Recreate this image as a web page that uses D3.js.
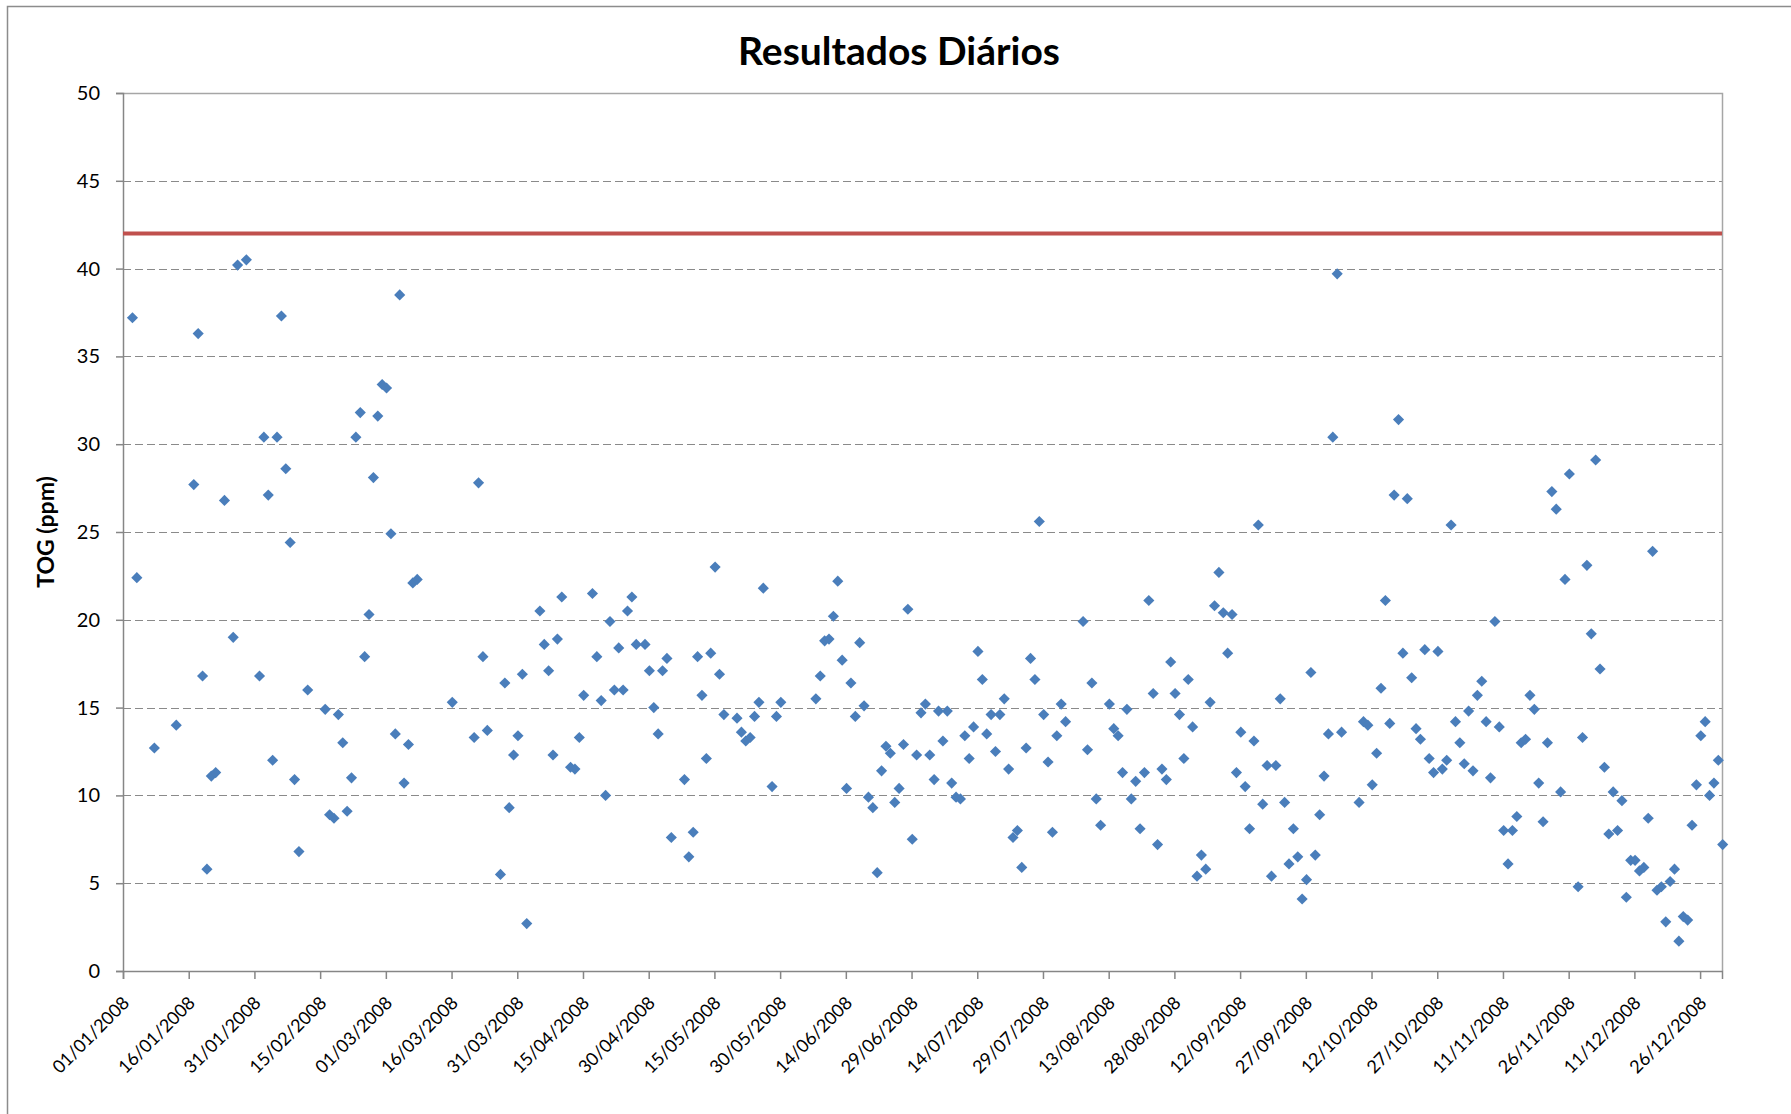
<!DOCTYPE html>
<html>
<head>
<meta charset="utf-8">
<script src="https://cdn.jsdelivr.net/npm/d3@7"></script>
<style>
  body { margin: 0; background: #fff; }
  svg text { font-family: Lato, "Liberation Sans", sans-serif; fill: #000; }
</style>
</head>
<body>
<div id="chart"></div>
<script>
// ---- data ----
var startDate = "01/01/2008";
var endDate = "31/12/2008";

// days after 01/01/2008
var sampleDays = [
  2, 3, 7, 12, 16, 17, 18, 19, 20, 21, 23, 25, 26, 28,
  31, 32, 33, 34, 35, 36, 37, 38, 39, 40, 42, 46, 47, 48, 49, 50, 51, 52, 53, 54, 55, 56, 57, 58,
  59, 60, 61, 62, 63, 64, 65, 66, 67, 75, 80, 81, 82, 83, 86, 87, 88, 89,
  90, 91, 92, 95, 96, 97, 98, 99, 100, 102, 103, 104, 105, 107, 108, 109, 110, 111, 112, 113, 114, 115, 116, 117, 119,
  120, 121, 122, 123, 124, 125, 128, 129, 130, 131, 132, 133, 134, 135, 136, 137, 140, 141, 142, 143, 144, 145, 146, 148, 149, 150,
  158, 159, 160, 161, 162, 163, 164, 165, 166, 167, 168, 169, 170, 171, 172, 173, 174, 175, 176, 177, 178, 179, 180,
  181, 182, 183, 184, 185, 186, 187, 188, 189, 190, 191, 192, 193, 194, 195, 196, 197, 198, 199, 200, 201, 202, 203, 204, 205, 206, 207, 208, 209, 210, 211,
  212, 213, 214, 215, 219, 220, 221, 222, 223, 225, 226, 227, 228, 229, 230, 231, 232, 233, 234, 235, 236, 237, 238, 239, 240, 241, 242,
  243, 244, 245, 246, 247, 248, 249, 250, 251, 252, 253, 254, 255, 256, 257, 258, 259, 260, 261, 262, 263, 264, 265, 266, 267, 268, 269, 270, 271, 272,
  273, 274, 275, 276, 277, 278, 282, 283, 284, 285, 286, 287, 288, 289, 290, 291, 292, 293, 294, 295, 296, 297, 298, 299, 300, 301, 302, 303,
  304, 305, 306, 307, 308, 309, 310, 311, 312, 313, 314, 315, 316, 317, 318, 319, 320, 321, 322, 323, 324, 325, 326, 327, 328, 329, 330, 332, 333,
  334, 335, 336, 337, 338, 339, 340, 341, 342, 343, 344, 345, 346, 347, 348, 349, 350, 351, 352, 353, 354, 355, 356, 357, 358, 359, 360, 361, 362, 363, 364, 365
];

// TOG (ppm)
var togValues = [
  37.2, 22.4, 12.7, 14.0, 27.7, 36.3, 16.8, 5.8, 11.1, 11.3, 26.8, 19.0, 40.2, 40.5,
  16.8, 30.4, 27.1, 12.0, 30.4, 37.3, 28.6, 24.4, 10.9, 6.8, 16.0, 14.9, 8.9, 8.7, 14.6, 13.0, 9.1, 11.0, 30.4, 31.8, 17.9, 20.3, 28.1, 31.6,
  33.4, 33.2, 24.9, 13.5, 38.5, 10.7, 12.9, 22.1, 22.3, 15.3, 13.3, 27.8, 17.9, 13.7, 5.5, 16.4, 9.3, 12.3,
  13.4, 16.9, 2.7, 20.5, 18.6, 17.1, 12.3, 18.9, 21.3, 11.6, 11.5, 13.3, 15.7, 21.5, 17.9, 15.4, 10.0, 19.9, 16.0, 18.4, 16.0, 20.5, 21.3, 18.6, 18.6,
  17.1, 15.0, 13.5, 17.1, 17.8, 7.6, 10.9, 6.5, 7.9, 17.9, 15.7, 12.1, 18.1, 23.0, 16.9, 14.6, 14.4, 13.6, 13.1, 13.3, 14.5, 15.3, 21.8, 10.5, 14.5, 15.3,
  15.5, 16.8, 18.8, 18.9, 20.2, 22.2, 17.7, 10.4, 16.4, 14.5, 18.7, 15.1, 9.9, 9.3, 5.6, 11.4, 12.8, 12.4, 9.6, 10.4, 12.9, 20.6, 7.5,
  12.3, 14.7, 15.2, 12.3, 10.9, 14.8, 13.1, 14.8, 10.7, 9.9, 9.8, 13.4, 12.1, 13.9, 18.2, 16.6, 13.5, 14.6, 12.5, 14.6, 15.5, 11.5, 7.6, 8.0, 5.9, 12.7, 17.8, 16.6, 25.6, 14.6, 11.9,
  7.9, 13.4, 15.2, 14.2, 19.9, 12.6, 16.4, 9.8, 8.3, 15.2, 13.8, 13.4, 11.3, 14.9, 9.8, 10.8, 8.1, 11.3, 21.1, 15.8, 7.2, 11.5, 10.9, 17.6, 15.8, 14.6, 12.1,
  16.6, 13.9, 5.4, 6.6, 5.8, 15.3, 20.8, 22.7, 20.4, 18.1, 20.3, 11.3, 13.6, 10.5, 8.1, 13.1, 25.4, 9.5, 11.7, 5.4, 11.7, 15.5, 9.6, 6.1, 8.1, 6.5, 4.1, 5.2, 17.0, 6.6,
  8.9, 11.1, 13.5, 30.4, 39.7, 13.6, 9.6, 14.2, 14.0, 10.6, 12.4, 16.1, 21.1, 14.1, 27.1, 31.4, 18.1, 26.9, 16.7, 13.8, 13.2, 18.3, 12.1, 11.3, 18.2, 11.5, 12.0, 25.4,
  14.2, 13.0, 11.8, 14.8, 11.4, 15.7, 16.5, 14.2, 11.0, 19.9, 13.9, 8.0, 6.1, 8.0, 8.8, 13.0, 13.2, 15.7, 14.9, 10.7, 8.5, 13.0, 27.3, 26.3, 10.2, 22.3, 28.3, 4.8, 13.3,
  23.1, 19.2, 29.1, 17.2, 11.6, 7.8, 10.2, 8.0, 9.7, 4.2, 6.3, 6.3, 5.7, 5.9, 8.7, 23.9, 4.6, 4.8, 2.8, 5.1, 5.8, 1.7, 3.1, 2.9, 8.3, 10.6, 13.4, 14.2, 10.0, 10.7, 12.0, 7.2
];

var limitValue = 42; // red limit line
var yTicks = [0, 5, 10, 15, 20, 25, 30, 35, 40, 45, 50];
var xTickLabels = [
  "01/01/2008", "16/01/2008", "31/01/2008", "15/02/2008", "01/03/2008", "16/03/2008", "31/03/2008",
  "15/04/2008", "30/04/2008", "15/05/2008", "30/05/2008", "14/06/2008", "29/06/2008", "14/07/2008",
  "29/07/2008", "13/08/2008", "28/08/2008", "12/09/2008", "27/09/2008", "12/10/2008", "27/10/2008",
  "11/11/2008", "26/11/2008", "11/12/2008", "26/12/2008"
];
var chartTitle = "Resultados Diários";
var yTitle = "TOG (ppm)";

// ---- layout ----
var width = 1791, height = 1114;
var margin = { left: 123, right: 69, top: 93, bottom: 143 };
var plotW = width - margin.left - margin.right;
var plotH = height - margin.top - margin.bottom;

var parseDate = d3.timeParse("%d/%m/%Y");
var t0 = parseDate(startDate);

var points = sampleDays.map(function(d, i) {
  return { date: d3.timeDay.offset(t0, d), value: togValues[i] };
});

var x = d3.scaleTime()
  .domain([t0, parseDate(endDate)])
  .range([0, plotW]);

var y = d3.scaleLinear()
  .domain([0, 50])
  .range([plotH, 0]);

var svg = d3.select("#chart").append("svg")
  .attr("width", width)
  .attr("height", height);

// chart area border (runs off the right / bottom edge like the picture)
svg.append("rect")
  .attr("x", 7.5).attr("y", 6.5)
  .attr("width", width + 10).attr("height", height + 10)
  .attr("fill", "none")
  .attr("stroke", "#8c8c8c")
  .attr("stroke-width", 1.5);

var g = svg.append("g")
  .attr("transform", "translate(" + margin.left + "," + margin.top + ")");

// dashed grid lines
g.append("g").attr("class", "grid")
  .selectAll("line")
  .data(yTicks.filter(function(v) { return v > 0 && v < 50; }))
  .enter().append("line")
  .attr("x1", 0).attr("x2", plotW)
  .attr("y1", function(v) { return Math.round(y(v)) + 0.5; })
  .attr("y2", function(v) { return Math.round(y(v)) + 0.5; })
  .attr("stroke", "#8a8a8a")
  .attr("stroke-width", 1)
  .attr("stroke-dasharray", "8,4");

// plot area frame: top and right
g.append("path")
  .attr("d", "M0," + (y(50) + 0.5) + "H" + (plotW + 0.5) + "V" + plotH)
  .attr("fill", "none")
  .attr("stroke", "#a6a6a6")
  .attr("stroke-width", 1.5);

// axes
var yAxis = d3.axisLeft(y)
  .tickValues(yTicks)
  .tickSize(7)
  .tickPadding(16);
var yAxisG = g.append("g").attr("class", "y_axis").call(yAxis);

var xAxis = d3.axisBottom(x)
  .tickValues(xTickLabels.map(parseDate))
  .tickSize(8)
  .tickFormat(d3.timeFormat("%d/%m/%Y"));
var xAxisG = g.append("g").attr("class", "x_axis")
  .attr("transform", "translate(0," + plotH + ")")
  .call(xAxis);

svg.selectAll(".y_axis path, .y_axis line, .x_axis path, .x_axis line")
  .attr("stroke", "#868686")
  .attr("stroke-width", 1.5);

yAxisG.selectAll("text")
  .attr("font-size", "20px")
  .attr("fill", "#000");

xAxisG.selectAll("text")
  .attr("font-size", "18px")
  .attr("fill", "#000")
  .attr("text-anchor", "end")
  .attr("dy", 0)
  .attr("y", 0)
  .attr("transform", "translate(7,33) rotate(-45)");

// limit line
g.append("line")
  .attr("x1", 0).attr("x2", plotW)
  .attr("y1", y(limitValue)).attr("y2", y(limitValue))
  .attr("stroke", "#c0504d")
  .attr("stroke-width", 4);

// markers (Excel style diamonds), nudged a bit to the right of the date
var diamond = d3.symbol().type(d3.symbolSquare).size(62);
g.append("g").attr("class", "points")
  .selectAll("path")
  .data(points)
  .enter().append("path")
  .attr("d", diamond)
  .attr("transform", function(d) {
    return "translate(" + (x(d.date) + 0.7) + "," + y(d.value) + ") rotate(45)";
  })
  .attr("fill", "#4a7ebb");

// titles
svg.append("text")
  .attr("x", 899).attr("y", 65)
  .attr("text-anchor", "middle")
  .attr("font-size", "39px")
  .attr("font-weight", "bold")
  .text(chartTitle);

svg.append("text")
  .attr("transform", "translate(54," + (margin.top + plotH / 2) + ") rotate(-90)")
  .attr("text-anchor", "middle")
  .attr("font-size", "23px")
  .attr("font-weight", "bold")
  .text(yTitle);
</script>
</body>
</html>
